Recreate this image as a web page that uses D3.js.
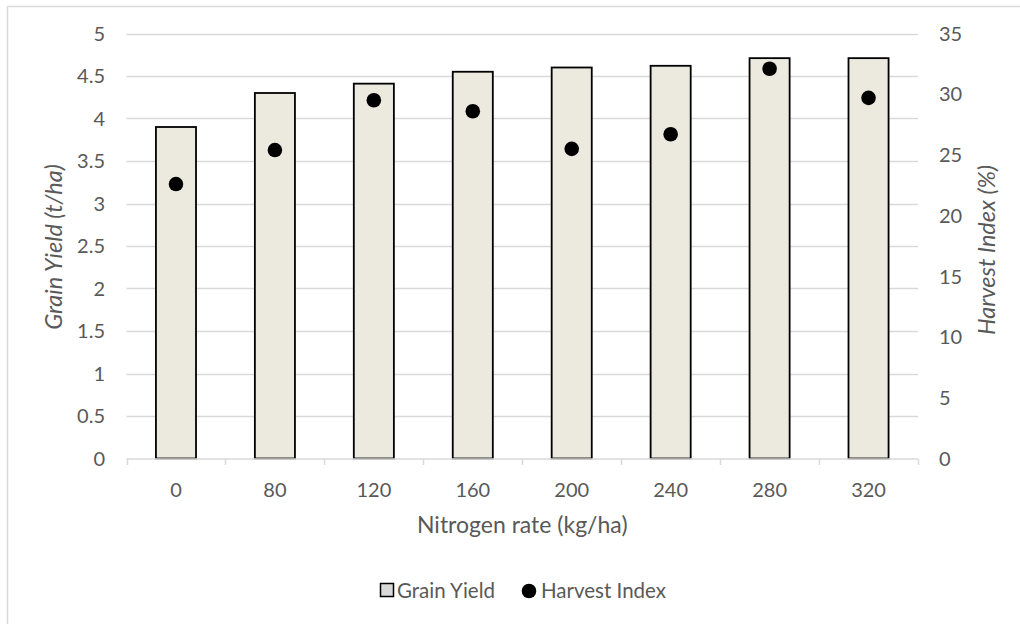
<!DOCTYPE html>
<html><head><meta charset="utf-8">
<script src="https://cdn.jsdelivr.net/npm/d3@7"></script>
<style>
html,body{margin:0;padding:0;background:#fff;}
text{font-family:Lato,"Open Sans",sans-serif;}
</style></head>
<body>
<svg id="chart" width="1020" height="624"></svg>
<script>
const categories = ["0","80","120","160","200","240","280","320"];
const grainYield = [3.90, 4.30, 4.41, 4.55, 4.60, 4.62, 4.71, 4.71];
const harvestIndex = [22.6, 25.4, 29.5, 28.6, 25.5, 26.7, 32.1, 29.7];
const leftTicks = [0,0.5,1,1.5,2,2.5,3,3.5,4,4.5,5];
const rightTicks = [0,5,10,15,20,25,30,35];

(function(){
const svg = d3.select("#chart");
const pLeft = 126.5, pRight = 918, pTop = 33.5, pBottom = 458.5;
const textColor = "#595959", gridColor = "#d9d9d9";

svg.append("rect").attr("x",7.5).attr("y",6.5).attr("width",1020).attr("height",640)
  .attr("fill","#fff").attr("stroke","#d9d9d9").attr("stroke-width",1.5);

const x = d3.scaleBand().domain(categories).range([pLeft,pRight]).paddingInner(0.595).paddingOuter(0.2975);
const xOuter = d3.scaleBand().domain(categories).range([pLeft,pRight]);
const yL = d3.scaleLinear().domain([0,5]).range([pBottom,pTop]);
const yR = d3.scaleLinear().domain([0,35]).range([pBottom,pTop]);

// gridlines
svg.append("g").selectAll("line").data(leftTicks.filter(d=>d>0)).join("line")
  .attr("x1",pLeft).attr("x2",pRight).attr("y1",d=>Math.round(yL(d))+0.5).attr("y2",d=>Math.round(yL(d))+0.5)
  .attr("stroke",gridColor).attr("stroke-width",1.3);

// left axis labels
svg.append("g").selectAll("text").data(leftTicks).join("text")
  .attr("x",105).attr("y",d=>yL(d)).attr("dy","0.36em").attr("text-anchor","end")
  .attr("font-size",20).attr("fill",textColor).text(d=>d);

// right axis labels
svg.append("g").selectAll("text").data(rightTicks).join("text")
  .attr("x",939).attr("y",d=>yR(d)).attr("dy","0.36em").attr("text-anchor","start")
  .attr("font-size",20).attr("fill",textColor).text(d=>d);

// bars
svg.append("g").selectAll("rect").data(grainYield).join("rect")
  .attr("x",(d,i)=>x(categories[i])).attr("width",x.bandwidth())
  .attr("y",d=>yL(d)).attr("height",d=>pBottom-yL(d))
  .attr("fill","#ECE9DF").attr("stroke","#000").attr("stroke-width",1.8);

// x axis
const xAxisG = svg.append("g").attr("transform",`translate(0,${pBottom+0.5})`);
xAxisG.append("line").attr("x1",pLeft).attr("x2",pRight).attr("stroke",gridColor).attr("stroke-width",1.5);
const tickPos = categories.map(c=>xOuter(c)).concat([pRight]);
xAxisG.selectAll("line.tick").data(tickPos).join("line").attr("class","tick")
  .attr("x1",d=>Math.round(d)+0.5).attr("x2",d=>Math.round(d)+0.5).attr("y1",0).attr("y2",6)
  .attr("stroke",gridColor).attr("stroke-width",1.5);
xAxisG.selectAll("text").data(categories).join("text")
  .attr("x",d=>xOuter(d)+xOuter.bandwidth()/2).attr("y",37.5).attr("text-anchor","middle")
  .attr("font-size",20).attr("fill",textColor).text(d=>d);

// dots
svg.append("g").selectAll("circle").data(harvestIndex).join("circle")
  .attr("cx",(d,i)=>xOuter(categories[i])+xOuter.bandwidth()/2).attr("cy",d=>yR(d))
  .attr("r",7.3).attr("fill","#000");

// axis titles
svg.append("text").attr("x",(pLeft+pRight)/2).attr("y",533).attr("text-anchor","middle")
  .attr("font-size",23).attr("fill",textColor).text("Nitrogen rate (kg/ha)");
svg.append("text").attr("transform","translate(62,247) rotate(-90)").attr("text-anchor","middle")
  .attr("font-size",23.5).attr("font-style","italic").attr("fill",textColor).text("Grain Yield (t/ha)");
svg.append("text").attr("transform","translate(995,250) rotate(-90)").attr("text-anchor","middle")
  .attr("font-size",23.5).attr("font-style","italic").attr("fill",textColor).text("Harvest Index (%)");

// legend
const lg = svg.append("g");
lg.append("rect").attr("x",380.5).attr("y",583.5).attr("width",13).attr("height",13)
  .attr("fill","#d9d9d9").attr("stroke","#000").attr("stroke-width",1.5);
lg.append("text").attr("x",397).attr("y",597.5).attr("font-size",20.5).attr("fill",textColor).text("Grain Yield");
lg.append("circle").attr("cx",529).attr("cy",591).attr("r",7.3).attr("fill","#000");
lg.append("text").attr("x",541).attr("y",597.5).attr("font-size",20.5).attr("fill",textColor).text("Harvest Index");
})();
</script>
</body></html>
